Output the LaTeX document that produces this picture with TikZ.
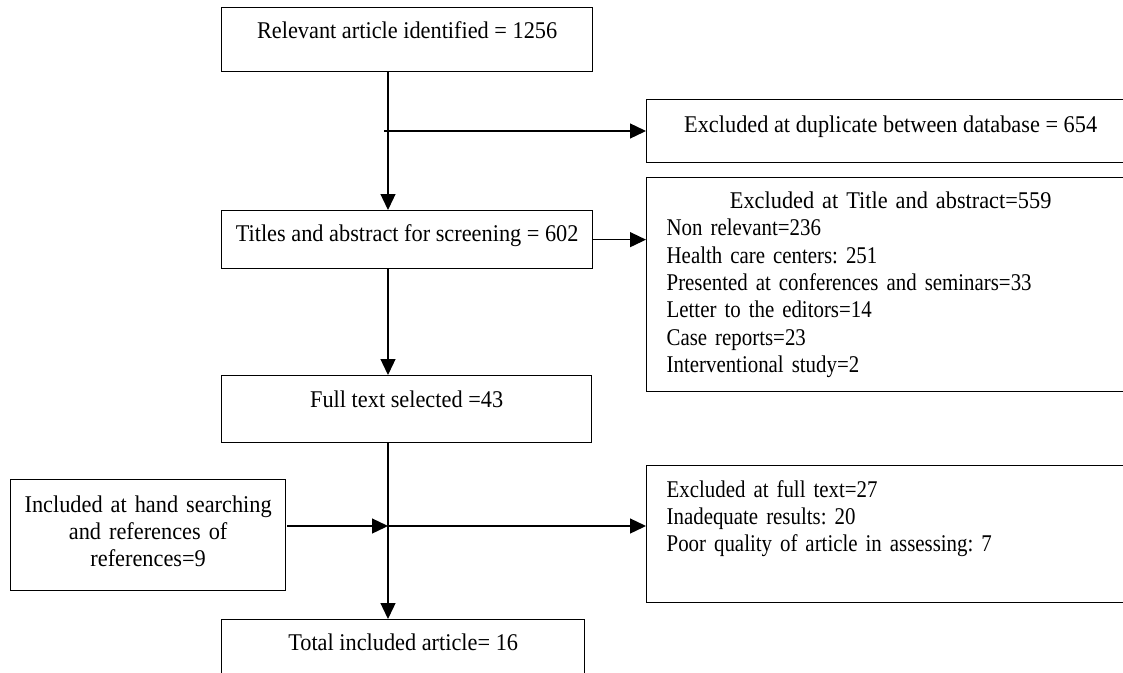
\documentclass[tikz,border=0pt]{standalone}
\usepackage{fontspec}
\setmainfont{Liberation Serif}[FakeStretch=0.93]
\newfontfamily\tightfont{Liberation Serif}[FakeStretch=0.87]
\newcommand\tightsetup{\tightfont\fontsize{24}{27.3}\selectfont\frenchspacing}
\usetikzlibrary{arrows.meta,calc}
\begin{document}
\frenchspacing
\begin{tikzpicture}[x=1pt,y=-1pt,
  box/.style={draw, line width=1.3pt, inner sep=0pt, anchor=north west,
    font=\fontsize{24}{27.3}\selectfont\frenchspacing},
  tight/.style={font=\tightsetup},
  arr/.style={line width=1.3pt, -{Triangle[length=16pt,width=15pt]}},
  ln/.style={line width=1.3pt}]
\clip (0,0) rectangle (1123,672);
\useasboundingbox (0,0) rectangle (1123,672);
% main boxes
\node[box, minimum width=371pt, text height=31.3pt, text depth=32.7pt] (b1) at (221,7) {Relevant article identified = 1256};
\node[box, minimum width=488pt, text height=32.7pt, text depth=30.3pt] (dup) at (646,99) {Excluded at duplicate between database = 654};
\node[box, minimum width=371pt, text height=30.7pt, text depth=27.3pt] (b2) at (221,210) {Titles and abstract for screening = 602};
\node[box, tight, text width=448pt, inner xsep=20pt, align=left, text height=31pt, text depth=183pt] (tae) at (646,177) {\makebox[\linewidth]{\fontsize{24}{27.3}\selectfont\rmfamily Excluded at Title and abstract=559}\\
Non relevant=236\\
Health care centers: 251\\
Presented at conferences and seminars=33\\
Letter to the editors=14\\
Case reports=23\\
Interventional study=2};
\node[box, minimum width=370pt, text height=31.7pt, text depth=35.3pt] (b3) at (221,375) {Full text selected =43};
\node[box, text width=275pt, align=center, text height=32.7pt, text depth=78.3pt] (hand) at (10,479) {Included at hand searching\\ and references of\\ references=9};
\node[box, tight, text width=468pt, inner xsep=20pt, align=left, text height=31.7pt, text depth=105.3pt] (fte) at (646,465) {Excluded at full text=27\\
Inadequate results: 20\\
Poor quality of article in assessing: 7};
\node[box, minimum width=363pt, text height=31pt, text depth=40pt] (fin) at (221,619) {Total included article= 16};
% connectors
\coordinate (main) at (388,0);
\coordinate (dstart) at (384,131);
\coordinate (junc) at (388,526);
\coordinate (hstart) at (287,526);
\draw[arr] (b1.south -| main) -- (b2.north -| main);
\draw[arr] (dstart) -- (dstart -| dup.west);
\draw[arr] (b2.east) -- (b2.east -| tae.west);
\draw[arr] (b2.south -| main) -- (b3.north -| main);
\draw[ln] (b3.south -| main) -- (junc);
\draw[arr] (junc) -- (fin.north -| main);
\draw[arr] (hstart) -- (junc);
\draw[arr] (junc) -- (junc -| fte.west);
\end{tikzpicture}
\end{document}
